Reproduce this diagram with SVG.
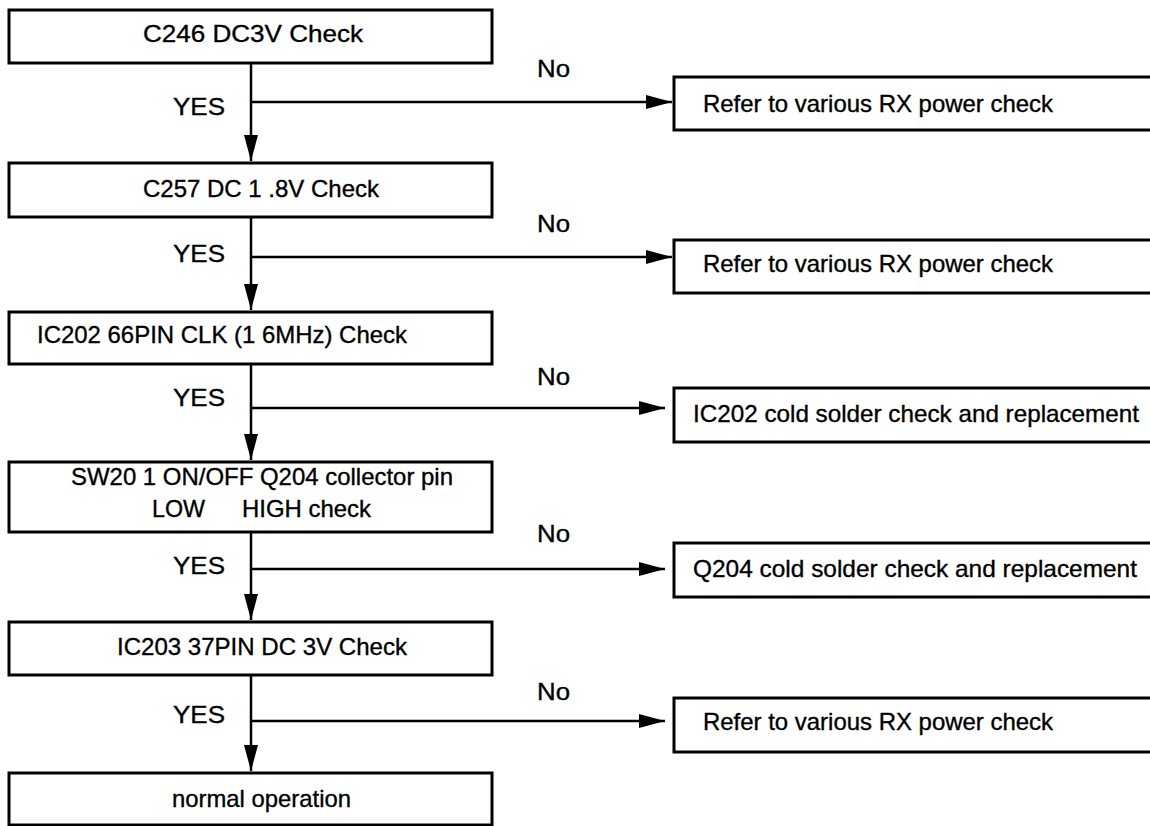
<svg xmlns="http://www.w3.org/2000/svg" width="1150" height="826" viewBox="0 0 1150 826">
<defs>
<style>
.box{fill:#fff;stroke:#000;stroke-width:3}
.ln{fill:none;stroke:#000;stroke-width:2.5}
.t{font-family:"Liberation Sans",Arial,sans-serif;font-size:24px;fill:#000;stroke:#000;stroke-width:0.35}
</style>
<marker id="ah" markerUnits="userSpaceOnUse" markerWidth="27" markerHeight="15" refX="26" refY="7.5" orient="auto" viewBox="0 0 27 15">
<path d="M0,0.5 L26,7.5 L0,14.5 Z" fill="#000"/>
</marker>
</defs>
<rect width="1150" height="826" fill="#fff"/>
<g id="connectors">
<line class="ln" x1="251" y1="63" x2="251" y2="161" marker-end="url(#ah)"/>
<line class="ln" x1="251" y1="217" x2="251" y2="310" marker-end="url(#ah)"/>
<line class="ln" x1="251" y1="364" x2="251" y2="460" marker-end="url(#ah)"/>
<line class="ln" x1="251" y1="532" x2="251" y2="620" marker-end="url(#ah)"/>
<line class="ln" x1="251" y1="675" x2="251" y2="771" marker-end="url(#ah)"/>
<line class="ln" x1="251" y1="102" x2="672" y2="102" marker-end="url(#ah)"/>
<line class="ln" x1="251" y1="257" x2="672" y2="257" marker-end="url(#ah)"/>
<line class="ln" x1="251" y1="408" x2="665" y2="408" marker-end="url(#ah)"/>
<line class="ln" x1="251" y1="569" x2="665" y2="569" marker-end="url(#ah)"/>
<line class="ln" x1="251" y1="721" x2="665" y2="721" marker-end="url(#ah)"/>
<text class="t" x="173" y="115" textLength="52" lengthAdjust="spacingAndGlyphs">YES</text>
<text class="t" x="173" y="262" textLength="52" lengthAdjust="spacingAndGlyphs">YES</text>
<text class="t" x="173" y="406" textLength="52" lengthAdjust="spacingAndGlyphs">YES</text>
<text class="t" x="173" y="574" textLength="52" lengthAdjust="spacingAndGlyphs">YES</text>
<text class="t" x="173" y="723" textLength="52" lengthAdjust="spacingAndGlyphs">YES</text>
<text class="t" x="537" y="77" textLength="33" lengthAdjust="spacingAndGlyphs">No</text>
<text class="t" x="537" y="232" textLength="33" lengthAdjust="spacingAndGlyphs">No</text>
<text class="t" x="537" y="385" textLength="33" lengthAdjust="spacingAndGlyphs">No</text>
<text class="t" x="537" y="542" textLength="33" lengthAdjust="spacingAndGlyphs">No</text>
<text class="t" x="537" y="700" textLength="33" lengthAdjust="spacingAndGlyphs">No</text>
</g>
<g id="n1"><rect class="box" x="9" y="10" width="483" height="53"/><text class="t" x="143" y="42" textLength="220" lengthAdjust="spacingAndGlyphs">C246 DC3V Check</text></g>
<g id="n2"><rect class="box" x="9" y="163" width="483" height="54"/><text class="t" x="143" y="197" textLength="236" lengthAdjust="spacingAndGlyphs">C257 DC 1 .8V Check</text></g>
<g id="n3"><rect class="box" x="9" y="312" width="483" height="52"/><text class="t" x="37" y="343" textLength="370" lengthAdjust="spacingAndGlyphs">IC202 66PIN CLK (1 6MHz) Check</text></g>
<g id="n4"><rect class="box" x="9" y="462" width="483" height="70"/><text class="t" x="71" y="485" textLength="382" lengthAdjust="spacingAndGlyphs">SW20 1 ON/OFF Q204 collector pin</text><text class="t" y="517"><tspan x="152" textLength="53" lengthAdjust="spacingAndGlyphs">LOW</tspan><tspan x="242" textLength="129" lengthAdjust="spacingAndGlyphs">HIGH check</tspan></text></g>
<g id="n5"><rect class="box" x="9" y="622" width="483" height="53"/><text class="t" x="117" y="655" textLength="290" lengthAdjust="spacingAndGlyphs">IC203 37PIN DC 3V Check</text></g>
<g id="n6"><rect class="box" x="9" y="773" width="483" height="52"/><text class="t" x="172" y="807" textLength="179" lengthAdjust="spacingAndGlyphs">normal operation</text></g>
<g id="r1"><rect class="box" x="674" y="77" width="490" height="53"/><text class="t" x="703" y="112" textLength="350" lengthAdjust="spacingAndGlyphs">Refer to various RX power check</text></g>
<g id="r2"><rect class="box" x="674" y="240" width="490" height="53"/><text class="t" x="703" y="272" textLength="350" lengthAdjust="spacingAndGlyphs">Refer to various RX power check</text></g>
<g id="r3"><rect class="box" x="674" y="388" width="490" height="54"/><text class="t" x="693" y="422" textLength="446" lengthAdjust="spacingAndGlyphs">IC202 cold solder check and replacement</text></g>
<g id="r4"><rect class="box" x="674" y="543" width="490" height="54"/><text class="t" x="693" y="577" textLength="444" lengthAdjust="spacingAndGlyphs">Q204 cold solder check and replacement</text></g>
<g id="r5"><rect class="box" x="674" y="698" width="490" height="54"/><text class="t" x="703" y="730" textLength="350" lengthAdjust="spacingAndGlyphs">Refer to various RX power check</text></g>
</svg>
